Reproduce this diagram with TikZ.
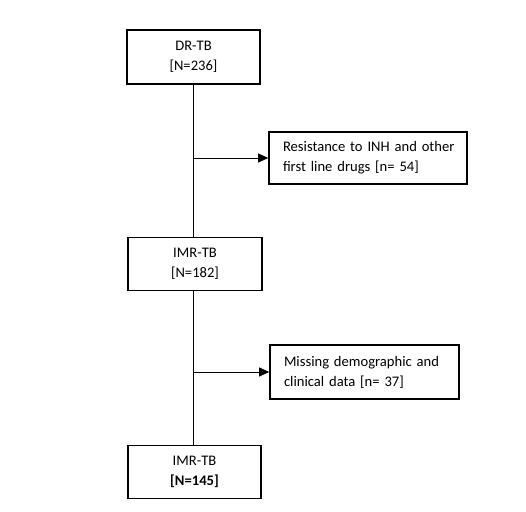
\documentclass[tikz,border=0pt]{standalone}
\usepackage{fontspec}
\setmainfont{Carlito}
\usetikzlibrary{arrows.meta}
\begin{document}
\begin{tikzpicture}[x=1pt,y=-1pt,
  box/.style={draw=black,line width=1.6pt,rectangle,inner sep=0pt,align=center,
    font=\fontsize{14.6}{20}\selectfont,text=black},
  sidebox/.style={box,align=left},
  link/.style={draw=black,line width=0.9pt},
  arr/.style={draw=black,line width=0.8pt,-{Triangle[length=10pt,width=9pt]}}]
\useasboundingbox (0,0) rectangle (526,511);
\node[box,minimum width=133pt,minimum height=54pt] (b1) at (193.5,57) {DR-TB\\{}[N=236]};
\node[box,minimum width=134pt,minimum height=53pt] (b2) at (195,264) {IMR-TB\\{}[N=182]};
\node[box,minimum width=133pt,minimum height=53pt] (b3) at (194.5,472) {IMR-TB\\\textbf{[N=145]}};
\node[sidebox,minimum width=198pt,minimum height=52pt,text width=170pt] (r1) at (368,158)
  {\mbox{Resistance to INH and other}\\\mbox{first line drugs [n= 54]}};
\node[sidebox,minimum width=189pt,minimum height=54pt,text width=161pt] (r2) at (364.5,372)
  {\mbox{Missing demographic and}\\\mbox{clinical data [n= 37]}};
\coordinate (x) at (193,0);
\draw[link] (b1.south -| x) -- (b2.north -| x);
\draw[link] (b2.south -| x) -- (b3.north -| x);
\draw[arr] (r1.west -| x) -- (r1.west);
\draw[arr] (r2.west -| x) -- (r2.west);
\end{tikzpicture}
\end{document}
